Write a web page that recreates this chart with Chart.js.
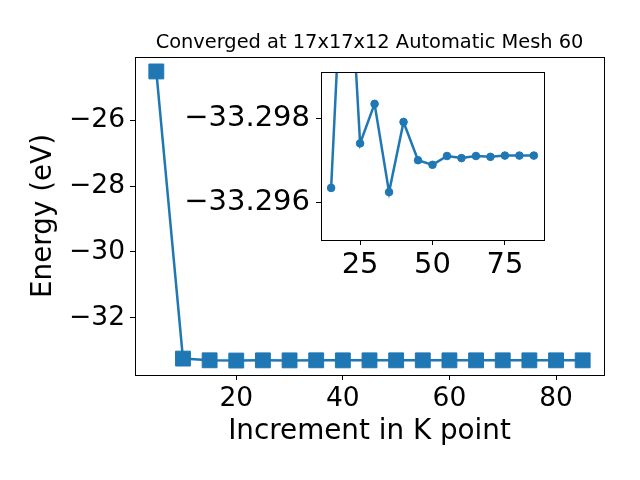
<!DOCTYPE html>
<html>
<head>
<meta charset="utf-8">
<script src="https://cdn.jsdelivr.net/npm/chart.js@4.4.1/dist/chart.umd.min.js"></script>
<style>
  html, body { margin: 0; padding: 0; background: #fff; }
  #wrap { position: relative; width: 640px; height: 480px; }
  #wrap canvas { position: absolute; }
  #mainChart { left: 0; top: 0; }
  #insetChart { left: 150px; top: 40px; }
</style>
</head>
<body>
<div id="wrap">
  <canvas id="mainChart" width="640" height="480"></canvas>
  <canvas id="insetChart" width="420" height="250"></canvas>
</div>
<script>
// K point increments and total energies (eV)
const kPoints = [5, 10, 15, 20, 25, 30, 35, 40, 45, 50, 55, 60, 65, 70, 75, 80, 85];
const energy = [-24.51, -33.244, -33.29634, -33.3035, -33.29740, -33.29834, -33.29624, -33.29791,
                -33.29700, -33.29689, -33.29710, -33.29705, -33.29710, -33.29708, -33.29711, -33.29711, -33.29711];

const mainXTicks = [20, 40, 60, 80];
const mainYTicks = [-32, -30, -28, -26];
const insetXTicks = [25, 50, 75];
const insetYTicks = [-33.298, -33.296];
const insetFrom = 2; // inset starts at k = 15

const titleText = 'Converged at 17x17x12 Automatic Mesh 60';

const blue = '#1f77b4';
Chart.defaults.font.family = 'DejaVu Sans';
Chart.defaults.color = '#000';

const fmt = (v, d) => v.toFixed(d).replace('-', '\u2212');
const points = (from) => kPoints.slice(from).map((k, i) => ({ x: k, y: energy[from + i] }));

// white axes background + 4 spines, like matplotlib
const frame = {
    id: 'frame',
    beforeDraw(chart) {
        const a = chart.chartArea, c = chart.ctx;
        c.save();
        c.fillStyle = '#fff';
        c.fillRect(a.left, a.top, a.right - a.left, a.bottom - a.top);
        c.restore();
    },
    afterDraw(chart) {
        const a = chart.chartArea, c = chart.ctx;
        c.save();
        c.strokeStyle = '#000';
        c.lineWidth = 1;
        c.strokeRect(Math.round(a.left) + 0.5, Math.round(a.top) + 0.5,
                     Math.round(a.right - a.left), Math.round(a.bottom - a.top));
        c.restore();
    }
};

// title centred over the axes, not the whole canvas
const axesTitle = {
    id: 'axesTitle',
    afterDraw(chart, args, opts) {
        const a = chart.chartArea, c = chart.ctx;
        c.save();
        c.font = '19.4px "DejaVu Sans"';
        c.fillStyle = '#000';
        c.textAlign = 'center';
        c.textBaseline = 'alphabetic';
        c.fillText(opts.text, (a.left + a.right) / 2, a.top - 9);
        c.restore();
    }
};

const axisGrid = { drawOnChartArea: false, drawTicks: true, tickLength: 5, tickColor: '#000', tickWidth: 1 };

// Main chart
new Chart(document.getElementById('mainChart'), {
    type: 'line',
    data: {
        datasets: [{
            data: points(0),
            borderColor: blue,
            backgroundColor: blue,
            borderWidth: 2.5,
            pointStyle: 'rect',
            pointRadius: 10.5,
            pointBorderWidth: 1,
            clip: false
        }]
    },
    options: {
        responsive: false,
        animation: false,
        layout: { padding: { left: 0, right: 36, top: 57, bottom: 0 } },
        plugins: {
            legend: { display: false },
            tooltip: { enabled: false },
            title: { display: false },
            axesTitle: { text: titleText }
        },
        scales: {
            x: {
                type: 'linear',
                min: 1, max: 89,
                afterFit: s => { s.height = 105; },
                afterBuildTicks: s => { s.ticks = mainXTicks.map(v => ({ value: v })); },
                ticks: { font: { size: 26.5 }, padding: 3, maxRotation: 0, callback: v => fmt(v, 0) },
                grid: axisGrid,
                border: { display: false },
                title: { display: true, text: 'Increment in K point', font: { size: 27.8 }, padding: { top: 0, bottom: 32 } }
            },
            y: {
                min: -33.7432, max: -24.0703,
                afterFit: s => { s.width = 135; },
                afterBuildTicks: s => { s.ticks = mainYTicks.map(v => ({ value: v })); },
                ticks: { font: { size: 26.5 }, padding: 5, callback: v => fmt(v, 0) },
                grid: axisGrid,
                border: { display: false },
                title: { display: true, text: 'Energy (eV)', font: { size: 27.8 }, padding: { top: 26.8, bottom: 0 } }
            }
        }
    },
    plugins: [frame, axesTitle]
});

// Inset zoom
new Chart(document.getElementById('insetChart'), {
    type: 'line',
    data: {
        datasets: [{
            data: points(insetFrom),
            borderColor: blue,
            backgroundColor: blue,
            borderWidth: 2.5,
            pointRadius: 3.8,
            pointBorderWidth: 1,
            clip: 0
        }]
    },
    options: {
        responsive: false,
        animation: false,
        layout: { padding: { left: 0, right: 26, top: 32, bottom: 0 } },
        plugins: { legend: { display: false }, tooltip: { enabled: false } },
        scales: {
            x: {
                type: 'linear',
                min: 11.5, max: 88.5,
                afterFit: s => { s.height = 50; },
                afterBuildTicks: s => { s.ticks = insetXTicks.map(v => ({ value: v })); },
                ticks: { font: { size: 29 }, padding: 3, maxRotation: 0, callback: v => fmt(v, 0) },
                grid: axisGrid,
                border: { display: false }
            },
            y: {
                reverse: true,
                min: -33.2991, max: -33.2951,
                afterFit: s => { s.width = 171; },
                afterBuildTicks: s => { s.ticks = insetYTicks.map(v => ({ value: v })); },
                ticks: { font: { size: 29 }, padding: 6, callback: v => fmt(v, 3) },
                grid: axisGrid,
                border: { display: false }
            }
        }
    },
    plugins: [frame]
});
</script>
</body>
</html>
